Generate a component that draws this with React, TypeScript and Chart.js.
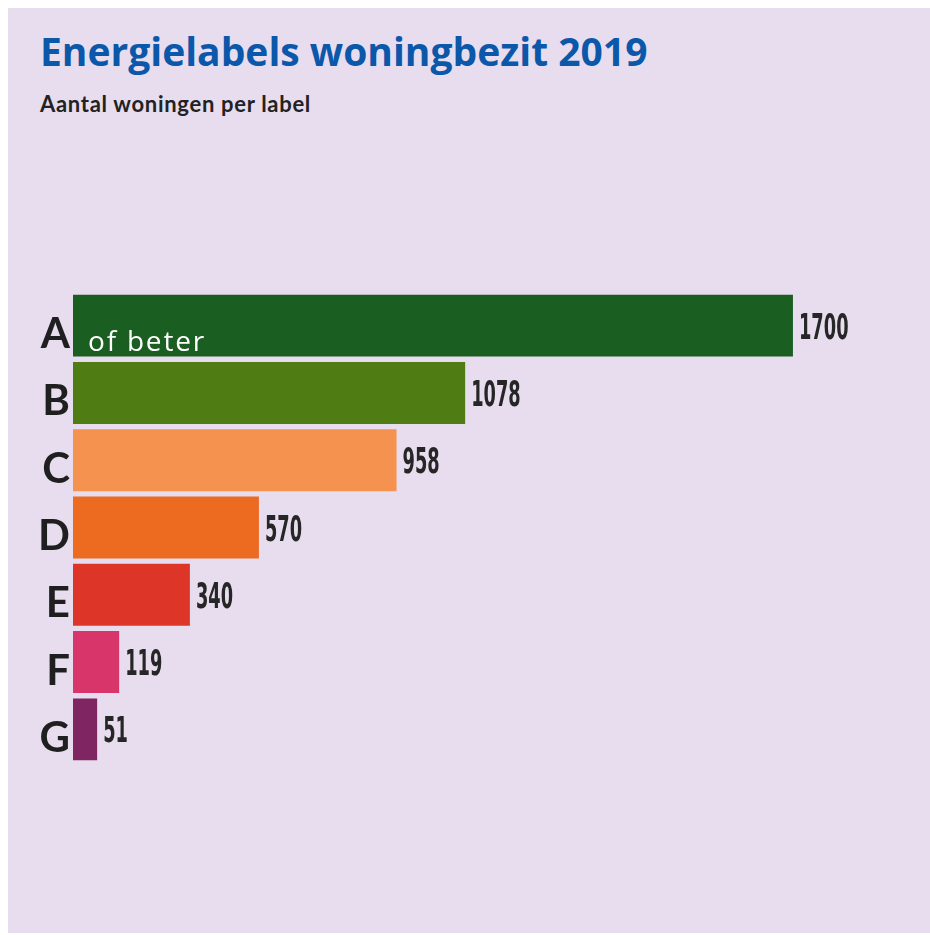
import React, { useEffect, useRef } from "react";
import { Chart, registerables } from "chart.js";

Chart.register(...registerables);

// ---- Data ----
const categories = ["A", "B", "C", "D", "E", "F", "G"];
// Bar lengths as drawn in the graphic (in axis units)
const barLengths = [1700, 926, 764, 439, 276, 109, 57];
// Printed values next to the bars
const valueLabels = ["1700", "1078", "958", "570", "340", "119", "51"];
const innerLabels = ["of beter", "", "", "", "", "", ""];
const barColors = ["#1b5e22", "#4f7d14", "#f5924f", "#ec6b20", "#dd3527", "#d8356a", "#7e2562"];
const axisMax = 2000;
const titleText = "Energielabels woningbezit 2019";
const subtitleText = "Aantal woningen per label";

const labelPlugin = {
  id: "barLabels",
  afterDatasetsDraw(chart: any) {
    const ctx = chart.ctx;
    const meta = chart.getDatasetMeta(0);
    meta.data.forEach((bar: any, i: number) => {
      const { x, y, base } = bar.getProps(["x", "y", "base"], true);
      ctx.save();
      ctx.fillStyle = "#262626";
      ctx.font = "bold 36px 'DejaVu Sans Condensed', 'DejaVu Sans', sans-serif";
      ctx.textBaseline = "alphabetic";
      ctx.textAlign = "left";
      ctx.translate(x + 6, y + 13);
      ctx.scale(0.55, 1);
      ctx.fillText(valueLabels[i], 0, 0);
      ctx.restore();
      if (innerLabels[i]) {
        ctx.save();
        ctx.fillStyle = "#ffffff";
        ctx.font = "28px 'Open Sans', sans-serif";
        try {
          (ctx as any).letterSpacing = "1.8px";
        } catch (e) {}
        ctx.textBaseline = "alphabetic";
        ctx.textAlign = "left";
        ctx.fillText(innerLabels[i], base + 15, y + 25);
        ctx.restore();
      }
    });
  },
};

export default function App() {
  const canvasRef = useRef<HTMLCanvasElement | null>(null);

  useEffect(() => {
    document.documentElement.style.overflow = "hidden";
    document.body.style.margin = "8px 0 0 8px";
    const canvas = canvasRef.current;
    if (!canvas) return;
    const chart = new Chart(canvas, {
      type: "bar",
      data: {
        labels: categories,
        datasets: [
          {
            data: barLengths,
            backgroundColor: barColors,
            borderWidth: 0,
            barPercentage: 1,
            categoryPercentage: 0.92,
          },
        ],
      },
      options: {
        indexAxis: "y",
        responsive: false,
        maintainAspectRatio: false,
        animation: false,
        layout: { padding: { left: 0, right: 10, top: 284, bottom: 170 } },
        plugins: {
          legend: { display: false },
          tooltip: { enabled: false },
          title: { display: false },
        },
        scales: {
          x: {
            display: false,
            min: 0,
            max: axisMax,
          },
          y: {
            afterFit: (scale: any) => {
              scale.width = 65;
            },
            grid: { display: false, drawTicks: false },
            border: { display: false },
            ticks: {
              padding: 3,
              labelOffset: 9,
              color: "#1f1f1f",
              font: { family: "Lato, 'Noto Sans', sans-serif", size: 42, weight: "bold" },
            },
          },
        },
      },
      plugins: [labelPlugin],
    });
    return () => chart.destroy();
  }, []);

  return (
    <div
      style={{
        position: "relative",
        width: 922,
        height: 925,
        background: "#e8ddef",
        overflow: "hidden",
      }}
    >
      <div
        style={{
          position: "absolute",
          left: 32,
          top: 23,
          font: "bold 39px/1 'Open Sans', 'Noto Sans', sans-serif",
          color: "#0b58aa",
          whiteSpace: "nowrap",
        }}
      >
        {titleText}
      </div>
      <div
        style={{
          position: "absolute",
          left: 32,
          top: 85,
          font: "bold 22px/1 Lato, 'Noto Sans', sans-serif",
          letterSpacing: "0.7px",
          color: "#222222",
          whiteSpace: "nowrap",
        }}
      >
        {subtitleText}
      </div>
      <canvas
        ref={canvasRef}
        width={922}
        height={925}
        style={{ position: "absolute", left: 0, top: 0, width: 922, height: 925 }}
      />
    </div>
  );
}
